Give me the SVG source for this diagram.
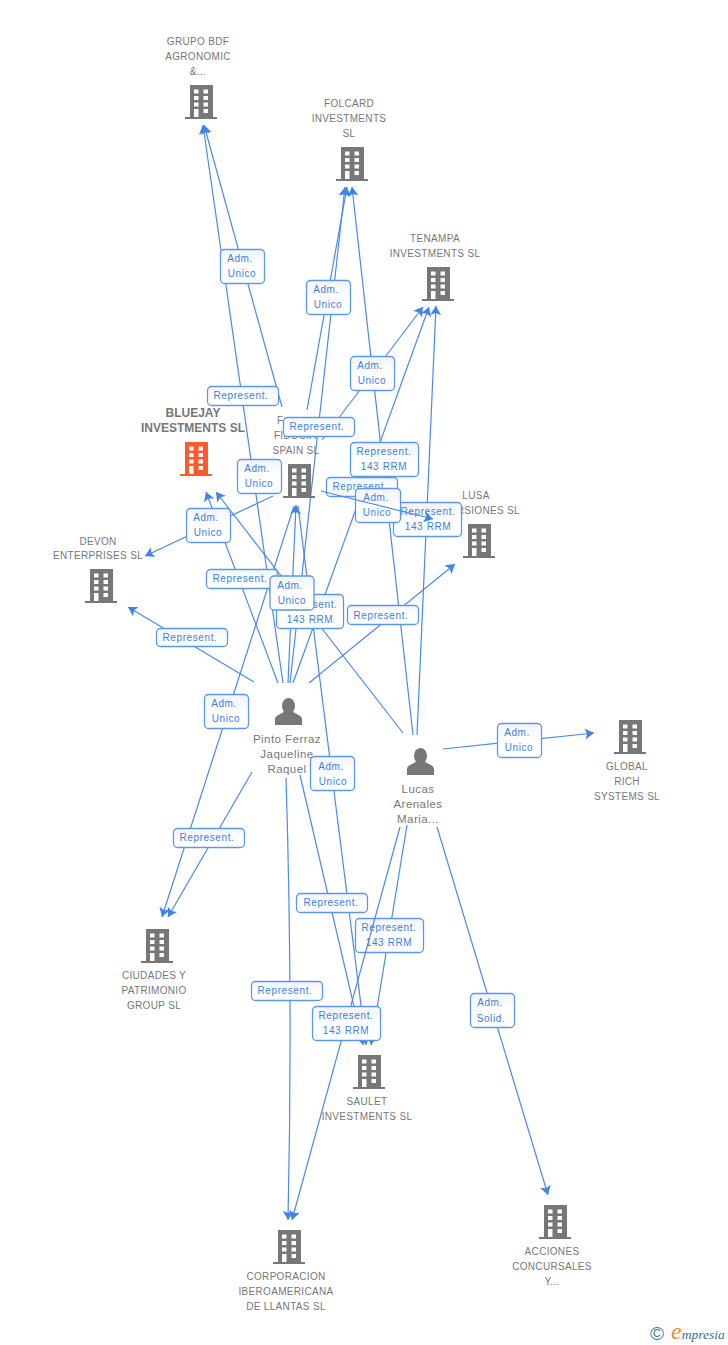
<svg xmlns="http://www.w3.org/2000/svg" width="728" height="1345" viewBox="0 0 728 1345">
<style>
text{font-family:"Liberation Sans",Arial,sans-serif}
.n{font-size:10px;fill:#777;text-anchor:middle;letter-spacing:.32px}
.p{font-size:11.5px;fill:#777;text-anchor:middle;letter-spacing:.45px}
.b{font-size:12px;font-weight:bold;fill:#777;text-anchor:middle}
.l{font-size:10px;fill:#3a7fe2;text-anchor:middle;letter-spacing:.6px}
.c{fill:none;stroke:#4a8ae8;stroke-width:1.2}
.a{marker-end:url(#ah)}
.box{fill:url(#g);stroke:#5b98ea;stroke-width:1.3}
</style>
<defs>
<linearGradient id="g" x1="0" y1="0" x2="0" y2="1"><stop offset="0" stop-color="#f1f4f9"/><stop offset=".5" stop-color="#fff"/><stop offset="1" stop-color="#fff"/></linearGradient>
<marker id="ah" markerUnits="userSpaceOnUse" markerWidth="12" markerHeight="12" refX="9" refY="5.500" orient="auto"><path d="M0 0L9 5.500L0 11L2 5.500Z" fill="#3f84e6"/></marker>
<g id="bld"><path d="M5 0H28V32H32V34H0V32H5Z"/><g fill="#fff"><rect x="9" y="4.500" width="4.500" height="4"/><rect x="18.500" y="4.500" width="4.500" height="4"/><rect x="9" y="11" width="4.500" height="4"/><rect x="18.500" y="11" width="4.500" height="4"/><rect x="9" y="17.500" width="4.500" height="4"/><rect x="18.500" y="17.500" width="4.500" height="4"/><rect x="9" y="24" width="4.500" height="8"/><rect x="18.500" y="24" width="4.500" height="4"/></g></g>
<g id="per"><ellipse cx="13.500" cy="8" rx="6.500" ry="8"/><path d="M0 27V21C0 17 7 16 10 13H17C20 16 27 17 27 21V27Z"/></g>
</defs>
<g id="connectors">
<path class="c a" d="M283 683L203 125"/>
<path class="c a" d="M282 407L204 125"/>
<path class="c a" d="M307 410L347 187"/>
<path class="c a" d="M290 683L345 187"/>
<path class="c a" d="M413 735L352 187"/>
<path class="c a" d="M322 440L423 307"/>
<path class="c a" d="M293 683L429 307"/>
<path class="c a" d="M417 735L436 306"/>
<path class="c a" d="M309 683L455 564"/>
<path class="c a" d="M403 733L216 492"/>
<path class="c a" d="M278 683L206 492"/>
<path class="c a" d="M273 496L145 556"/>
<path class="c a" d="M288 683L296 505"/>
<path class="c a" d="M294 506L162 917"/>
<path class="c a" d="M298 506L366 1045"/>
<path class="c a" d="M254 682L128 607"/>
<path class="c a" d="M252 772L168 917"/>
<path class="c a" d="M300 775L363 1045"/>
<path class="c a" d="M286 778Q293 1000 288 1220"/>
<path class="c a" d="M407 825L371 1045"/>
<path class="c a" d="M437 827L548 1195"/>
<path class="c a" d="M443 749L594 733"/>
</g>
<g id="n-grupo"><use href="#bld" x="185" y="85" fill="#777"/><text class="n" x="198" y="45">GRUPO BDF</text><text class="n" x="198" y="60">AGRONOMIC</text><text class="n" x="198" y="75">&amp;...</text></g>
<g id="n-folcard"><use href="#bld" x="336" y="147" fill="#777"/><text class="n" x="349" y="107">FOLCARD</text><text class="n" x="349" y="122">INVESTMENTS</text><text class="n" x="349" y="137">SL</text></g>
<g id="n-tenampa"><use href="#bld" x="422" y="267" fill="#777"/><text class="n" x="435" y="242">TENAMPA</text><text class="n" x="435" y="257">INVESTMENTS SL</text></g>
<g id="n-bluejay"><use href="#bld" x="180" y="442" fill="#ff5a2b"/><text class="b" x="193" y="417">BLUEJAY</text><text class="b" x="193" y="432">INVESTMENTS SL</text></g>
<g id="n-fiducia"><use href="#bld" x="283" y="464" fill="#777"/><text class="n" x="277" y="424" style="text-anchor:start">F</text><text class="n" x="295" y="439">FIDUCIA</text><text class="n" x="296" y="454">SPAIN SL</text></g>
<g id="n-lusa"><use href="#bld" x="463" y="524" fill="#777"/><text class="n" x="476" y="499">LUSA</text><text class="n" x="476" y="514">INVERSIONES SL</text></g>
<g id="n-devon"><use href="#bld" x="85" y="569" fill="#777"/><text class="n" x="98" y="545">DEVON</text><text class="n" x="98" y="559">ENTERPRISES SL</text></g>
<g id="n-global"><use href="#bld" x="614" y="720" fill="#777"/><text class="n" x="627" y="770">GLOBAL</text><text class="n" x="627" y="785">RICH</text><text class="n" x="627" y="800">SYSTEMS SL</text></g>
<g id="n-ciudades"><use href="#bld" x="141" y="929" fill="#777"/><text class="n" x="154" y="979">CIUDADES Y</text><text class="n" x="154" y="994">PATRIMONIO</text><text class="n" x="154" y="1009">GROUP SL</text></g>
<g id="n-saulet"><use href="#bld" x="353" y="1055" fill="#777"/><text class="n" x="367" y="1105">SAULET</text><text class="n" x="367" y="1120">INVESTMENTS SL</text></g>
<g id="n-acciones"><use href="#bld" x="539" y="1205" fill="#777"/><text class="n" x="552" y="1255">ACCIONES</text><text class="n" x="552" y="1270">CONCURSALES</text><text class="n" x="552" y="1285">Y...</text></g>
<g id="n-corporacion"><use href="#bld" x="273" y="1230" fill="#777"/><text class="n" x="286" y="1280">CORPORACION</text><text class="n" x="286" y="1295">IBEROAMERICANA</text><text class="n" x="286" y="1310">DE LLANTAS SL</text></g>
<g id="n-pinto"><use href="#per" x="275" y="698" fill="#777"/><text class="p" x="287" y="743">Pinto Ferraz</text><text class="p" x="287" y="758">Jaqueline</text><text class="p" x="287" y="773">Raquel</text></g>
<g id="n-lucas"><use href="#per" x="407" y="748" fill="#777"/><text class="p" x="418" y="793">Lucas</text><text class="p" x="418" y="808">Arenales</text><text class="p" x="418" y="823">Maria...</text></g>
<g id="edge-labels">
<g><rect class="box" x="220.500" y="249.500" width="44" height="34" rx="4"/><text class="l" x="240" y="262">Adm.</text><text class="l" x="242" y="277">Unico</text></g>
<g><rect class="box" x="207.500" y="386.500" width="71" height="19" rx="4"/><text class="l" x="241" y="399">Represent.</text></g>
<g><rect class="box" x="306.500" y="280.500" width="44" height="34" rx="4"/><text class="l" x="326" y="293">Adm.</text><text class="l" x="328" y="308">Unico</text></g>
<g><rect class="box" x="350.500" y="356.500" width="44" height="34" rx="4"/><text class="l" x="370" y="369">Adm.</text><text class="l" x="372" y="384">Unico</text></g>
<g><rect class="box" x="283.500" y="417.500" width="71" height="19" rx="4"/><text class="l" x="317" y="430">Represent.</text></g>
<g><rect class="box" x="350.500" y="442.500" width="68" height="34" rx="4"/><text class="l" x="384" y="455">Represent.</text><text class="l" x="384" y="470">143 RRM</text></g>
<g><rect class="box" x="326.500" y="477.500" width="71" height="19" rx="4"/><text class="l" x="360" y="490">Represent.</text></g>
<g><rect class="box" x="393.500" y="502.500" width="68" height="34" rx="4"/><text class="l" x="428" y="515">Represent.</text><text class="l" x="428" y="530">143 RRM</text></g>
<g><rect class="box" x="355.500" y="488.500" width="45" height="34" rx="4"/><text class="l" x="376" y="501">Adm.</text><text class="l" x="377" y="516">Unico</text></g>
<g><rect class="box" x="237.500" y="459.500" width="44" height="34" rx="4"/><text class="l" x="257" y="472">Adm.</text><text class="l" x="259" y="487">Unico</text></g>
<g><rect class="box" x="186.500" y="508.500" width="44" height="34" rx="4"/><text class="l" x="206" y="521">Adm.</text><text class="l" x="208" y="536">Unico</text></g>
<g><rect class="box" x="206.500" y="569.500" width="71" height="19" rx="4"/><text class="l" x="240" y="582">Represent.</text></g>
<g><rect class="box" x="276.500" y="594.500" width="67" height="34" rx="4"/><text class="l" x="310" y="608">Represent.</text><text class="l" x="310" y="623">143 RRM</text></g>
<g><rect class="box" x="270" y="576" width="44" height="34" rx="4"/><text class="l" x="290" y="589">Adm.</text><text class="l" x="292" y="604">Unico</text></g>
<g><rect class="box" x="347.500" y="605.500" width="71" height="19" rx="4"/><text class="l" x="381" y="619">Represent.</text></g>
<g><rect class="box" x="156.500" y="628.500" width="71" height="18" rx="4"/><text class="l" x="190" y="641">Represent.</text></g>
<g><rect class="box" x="204.500" y="694.500" width="44" height="34" rx="4"/><text class="l" x="224" y="707">Adm.</text><text class="l" x="226" y="722">Unico</text></g>
<g><rect class="box" x="310.500" y="756.500" width="44" height="34" rx="4"/><text class="l" x="331" y="770">Adm.</text><text class="l" x="333" y="785">Unico</text></g>
<g><rect class="box" x="497.500" y="723.500" width="44" height="34" rx="4"/><text class="l" x="517" y="736">Adm.</text><text class="l" x="519" y="751">Unico</text></g>
<g><rect class="box" x="173.500" y="828.500" width="71" height="19" rx="4"/><text class="l" x="207" y="841">Represent.</text></g>
<g><rect class="box" x="296.500" y="893.500" width="71" height="19" rx="4"/><text class="l" x="331" y="906">Represent.</text></g>
<g><rect class="box" x="355.500" y="918.500" width="68" height="34" rx="4"/><text class="l" x="389" y="931">Represent.</text><text class="l" x="389" y="946">143 RRM</text></g>
<g><rect class="box" x="251.500" y="981.500" width="71" height="19" rx="4"/><text class="l" x="285" y="994">Represent.</text></g>
<g><rect class="box" x="470.500" y="993.500" width="44" height="34" rx="4"/><text class="l" x="490" y="1006">Adm.</text><text class="l" x="491" y="1022">Solid.</text></g>
</g>
<g id="connectors-top">
<path class="c a" d="M321 491L433 519"/>
<path class="c a" d="M400 827L292 1220"/>
</g>
<g id="edge-label-top"><rect class="box" x="312.500" y="1006.500" width="68" height="34" rx="4"/><text class="l" x="346" y="1019">Represent.</text><text class="l" x="346" y="1034">143 RRM</text></g>
<g id="logo"><text x="650" y="1340" font-size="19" fill="#3f7f93">©</text><text x="671" y="1339" style="font-family:'Liberation Serif',serif" font-style="italic"><tspan font-size="24" fill="#f08a24">e</tspan><tspan font-size="13.500" fill="#2f7488">mpresia</tspan></text></g>
</svg>
